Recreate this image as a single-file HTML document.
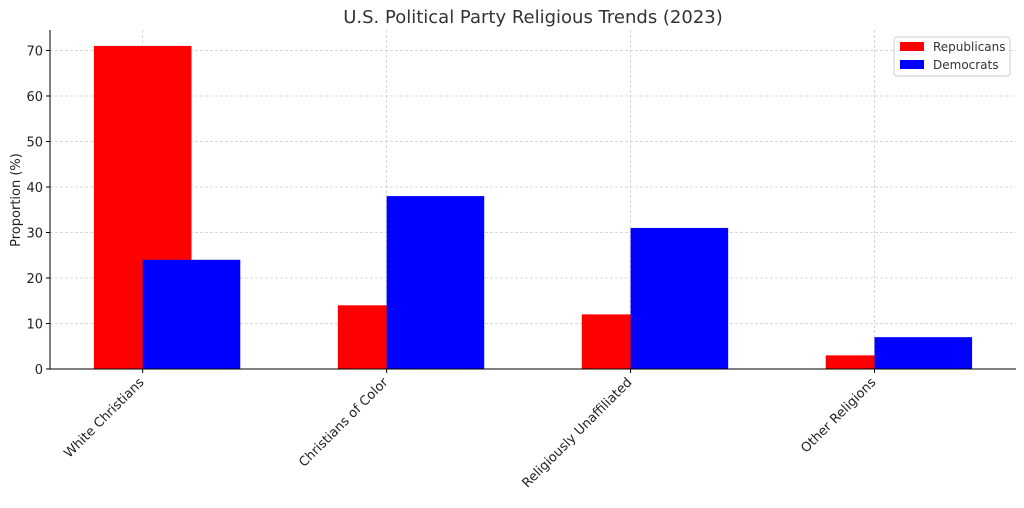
<!DOCTYPE html>
<html><head><meta charset="utf-8"><style>
body{margin:0;background:#fff;}
svg{display:block;font-family:"DejaVu Sans","Liberation Sans",sans-serif;}
</style></head><body>
<svg id="chart" width="1024" height="508"></svg>
<script>
const categories=["White Christians","Christians of Color","Religiously Unaffiliated","Other Religions"];
const republicans=[71,14,12,3];
const democrats=[24,38,31,7];
const yTicks=[0,10,20,30,40,50,60,70];
const seriesNames=["Republicans","Democrats"];

const NS="http://www.w3.org/2000/svg";
const svg=document.getElementById('chart');
const L=50,R=1016,T=30,B=369;
const xMin=-0.38,xMax=3.58,yMin=0,yMax=74.5;
function x(v){return L+(v-xMin)/(xMax-xMin)*(R-L);}
function y(v){return B-(v-yMin)/(yMax-yMin)*(B-T);}
function mk(tag,attrs,parent){const e=document.createElementNS(NS,tag);for(const k in attrs)e.setAttribute(k,attrs[k]);(parent||svg).appendChild(e);return e;}
const bw=0.4;
// grid
yTicks.forEach(t=>{const g=mk('line',{x1:L,x2:R,y1:y(t),y2:y(t),stroke:'#ccc','stroke-dasharray':'3,2','stroke-width':0.8});
});
categories.forEach((c,i)=>{const g=mk('line',{x1:x(i),x2:x(i),y1:T,y2:B,stroke:'#ccc','stroke-dasharray':'3,2','stroke-width':0.8});
});
// bars
categories.forEach((c,i)=>{
 const r=mk('rect',{x:x(i-bw/2),y:y(republicans[i]),width:x(i+bw/2)-x(i-bw/2),height:y(0)-y(republicans[i]),fill:'#ff0000'});
 
 const d=mk('rect',{x:x(i),y:y(democrats[i]),width:x(i+bw)-x(i),height:y(0)-y(democrats[i]),fill:'#0000ff'});
 
});
// axes
const ya=mk('line',{x1:L,x2:L,y1:T,y2:B,stroke:'#000','stroke-width':1});

const xa=mk('line',{x1:L,x2:R,y1:B,y2:B,stroke:'#000','stroke-width':1});

yTicks.forEach(t=>{mk('line',{x1:L-4,x2:L,y1:y(t),y2:y(t),stroke:'#000'});
 const tx=mk('text',{x:L-7,y:y(t)+5,'text-anchor':'end','font-size':13,fill:'#222'});tx.textContent=t;
 });
categories.forEach((c,i)=>{mk('line',{x1:x(i),x2:x(i),y1:B,y2:B+4,stroke:'#000'});
 const tx=mk('text',{x:x(i)+2,y:B+14,'text-anchor':'end','font-size':13,fill:'#222',transform:`rotate(-45 ${x(i)+2} ${B+14})`});tx.textContent=c;
 });
const yt=mk('text',{x:20,y:200,'text-anchor':'middle','font-size':13,fill:'#222',transform:'rotate(-90 20 200)'});yt.textContent='Proportion (%)';

const ti=mk('text',{x:533,y:23,'text-anchor':'middle','font-size':18,fill:'#333'});ti.textContent='U.S. Political Party Religious Trends (2023)';

// legend
const lg=mk('g',{});
mk('rect',{x:894,y:37,width:116,height:39,fill:'#fff',stroke:'#ccc',rx:3},lg);
const cols=['#ff0000','#0000ff'];
seriesNames.forEach((n,k)=>{
 const e=mk('g',{},lg);
 mk('rect',{x:900,y:42+k*18,width:24,height:9,fill:cols[k]},e);
 const t=mk('text',{x:933,y:51+k*18,'font-size':12,fill:'#333'},e);t.textContent=n;
});
</script>
</body></html>
